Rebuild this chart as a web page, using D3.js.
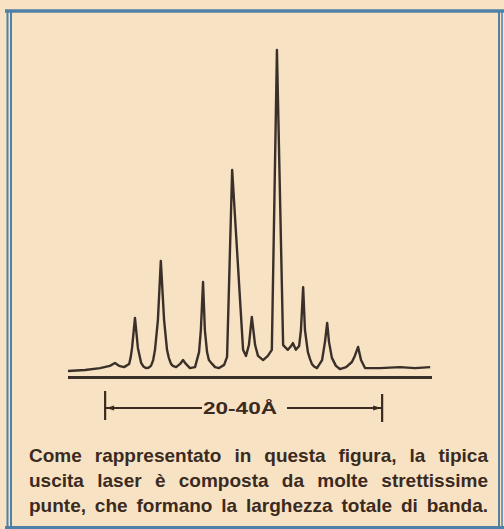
<!DOCTYPE html>
<html>
<head>
<meta charset="utf-8">
<script src="https://cdn.jsdelivr.net/npm/d3@7"></script>
<style>
  html, body { margin: 0; padding: 0; background: #f6e2c2; }
  svg { display: block; }
</style>
</head>
<body>
<script>
// ---- data (relative wavelength 0-100, relative intensity 0-100) ----
const wavelength = [0.0, 4.7, 8.8, 11.5, 12.9, 14.0, 15.4, 16.8, 17.2, 17.6, 18.4, 19.2, 20.1, 20.7, 21.4,
  22.1, 22.8, 23.4, 23.9, 24.7, 25.5, 26.4, 27.2, 27.7, 28.3, 28.8, 29.7, 30.8, 31.6, 32.4, 33.5, 34.9,
  36.0, 36.5, 37.1, 37.6, 38.2, 38.7, 39.6, 40.4, 41.5, 42.9, 43.7, 45.1, 48.1, 48.9, 49.7,
  50.5, 51.4, 52.2, 53.6, 54.9, 56.0, 57.4, 59.1, 60.4, 61.3, 61.8, 62.6, 63.5,
  64.0, 64.6, 65.1, 65.9, 66.5, 67.0, 67.6, 68.4, 69.8, 70.6, 71.2, 71.7, 72.5, 73.6, 74.7,
  76.4, 78.0, 78.8, 79.7, 80.5, 81.6, 85.7, 91.2, 95.3, 99.5];
const intensity = [-0.3, 0.0, 0.6, 1.3, 2.2, 1.3, 0.9, 1.9, 3.8, 6.9, 16.3, 6.9, 2.2, 1.1, 0.6,
  0.7, 1.3, 3.1, 6.3, 15.6, 34.1, 15.6, 6.3, 3.8, 1.9, 1.3, 0.9, 1.9, 3.1, 1.9, 0.6, 0.9,
  5.6, 12.5, 27.5, 12.5, 5.6, 3.1, 1.9, 0.9, 0.6, 1.6, 4.1, 62.5, 6.3, 4.4, 7.8,
  16.6, 7.8, 4.4, 3.1, 4.4, 6.3, 100, 7.8, 6.3, 7.5, 8.4, 6.3, 7.5,
  12.5, 25.9, 12.5, 5.6, 3.4, 1.9, 1.1, 0.6, 3.1, 8.8, 14.7, 8.8, 3.8, 1.3, 0.3,
  0.9, 2.5, 4.4, 7.2, 3.1, 0.6, 0.6, 0.9, 0.6, 0.9];
const bandStart = 10.2, bandEnd = 86.3;
const bandLabel = "20-40Å";
const captionLines = [
  "Come rappresentato in questa figura, la tipica",
  "uscita laser è composta da molte strettissime",
  "punte, che formano la larghezza totale di banda."
];

// ---- drawing ----
const W = 504, H = 529;
const ink = "#3a3029", textInk = "#3b2a1f", frame = "#4f80a8";
const svg = d3.select("body").append("svg").attr("width", W).attr("height", H);
svg.append("rect").attr("width", W).attr("height", H).attr("fill", "#f7e3c3");

// frame
const fg = svg.append("g").attr("fill", "none").attr("stroke", frame);
fg.append("line").attr("x1", 5).attr("x2", 504).attr("y1", 11).attr("y2", 11).attr("stroke-width", 3.5);
fg.append("line").attr("x1", 7.5).attr("x2", 7.5).attr("y1", 10).attr("y2", 529).attr("stroke-width", 2);
fg.append("line").attr("x1", 11).attr("x2", 11).attr("y1", 10).attr("y2", 529).attr("stroke-width", 2);
fg.append("line").attr("x1", 499).attr("x2", 499).attr("y1", 10).attr("y2", 529).attr("stroke-width", 2);
fg.append("line").attr("x1", 502).attr("x2", 502).attr("y1", 10).attr("y2", 529).attr("stroke-width", 1.5);
fg.append("line").attr("x1", 5).attr("x2", 504).attr("y1", 527.5).attr("y2", 527.5).attr("stroke-width", 3);

const x = d3.scaleLinear().domain([0, 100]).range([68, 432]);
const y = d3.scaleLinear().domain([0, 100]).range([370, 50]);

// baseline axis
const axisY = y(0) + 7.5;
svg.append("line").attr("x1", x(0)).attr("x2", x(100)).attr("y1", axisY).attr("y2", axisY)
  .attr("stroke", ink).attr("stroke-width", 3);

// spectrum
const pts = wavelength.map((w, i) => [w, intensity[i]]);
const line = d3.line().x(d => x(d[0])).y(d => y(d[1])).curve(d3.curveLinear);
svg.append("path").attr("d", line(pts)).attr("fill", "none")
  .attr("stroke", ink).attr("stroke-width", 2.4).attr("stroke-linejoin", "round");

// band bracket
const by = 408;
const bg = svg.append("g").attr("stroke", textInk).attr("fill", "none");
bg.append("line").attr("x1", x(bandStart)).attr("x2", x(bandStart)).attr("y1", by - 17).attr("y2", by + 12).attr("stroke-width", 2.2);
bg.append("line").attr("x1", x(bandEnd)).attr("x2", x(bandEnd)).attr("y1", by - 14).attr("y2", by + 14).attr("stroke-width", 2.2);
const labelCx = 240;
bg.append("line").attr("x1", x(bandStart)).attr("x2", labelCx - 38).attr("y1", by).attr("y2", by).attr("stroke-width", 1.8);
bg.append("line").attr("x1", labelCx + 47).attr("x2", x(bandEnd)).attr("y1", by).attr("y2", by).attr("stroke-width", 1.8);
// arrow heads
svg.append("path").attr("fill", textInk)
  .attr("d", `M${x(bandStart) + 1},${by} l8,-2.5 l0,5 z`);
svg.append("path").attr("fill", textInk)
  .attr("d", `M${x(bandEnd) - 1},${by} l-8,-2.5 l0,5 z`);
svg.append("text").attr("x", labelCx).attr("y", by + 6).attr("text-anchor", "middle")
  .attr("font-family", "Liberation Sans, Arial, sans-serif").attr("font-weight", "bold")
  .attr("font-size", 16.5).attr("fill", textInk)
  .attr("textLength", 74).attr("lengthAdjust", "spacingAndGlyphs").text(bandLabel);

// caption, justified
const capLeft = 29, capRight = 488, capBase = [462, 487, 512];
captionLines.forEach((ln, li) => {
  const words = ln.split(" ");
  const g = svg.append("g");
  const nodes = words.map(w => g.append("text")
    .attr("font-family", "Liberation Sans, Arial, sans-serif").attr("font-weight", "bold")
    .attr("font-size", 19).attr("fill", textInk).attr("y", capBase[li]).text(w));
  const widths = nodes.map(n => n.node().getComputedTextLength());
  const total = d3.sum(widths);
  const gap = (capRight - capLeft - total) / (words.length - 1);
  let cx = capLeft;
  nodes.forEach((n, i) => { n.attr("x", cx); cx += widths[i] + gap; });
});
</script>
</body>
</html>
